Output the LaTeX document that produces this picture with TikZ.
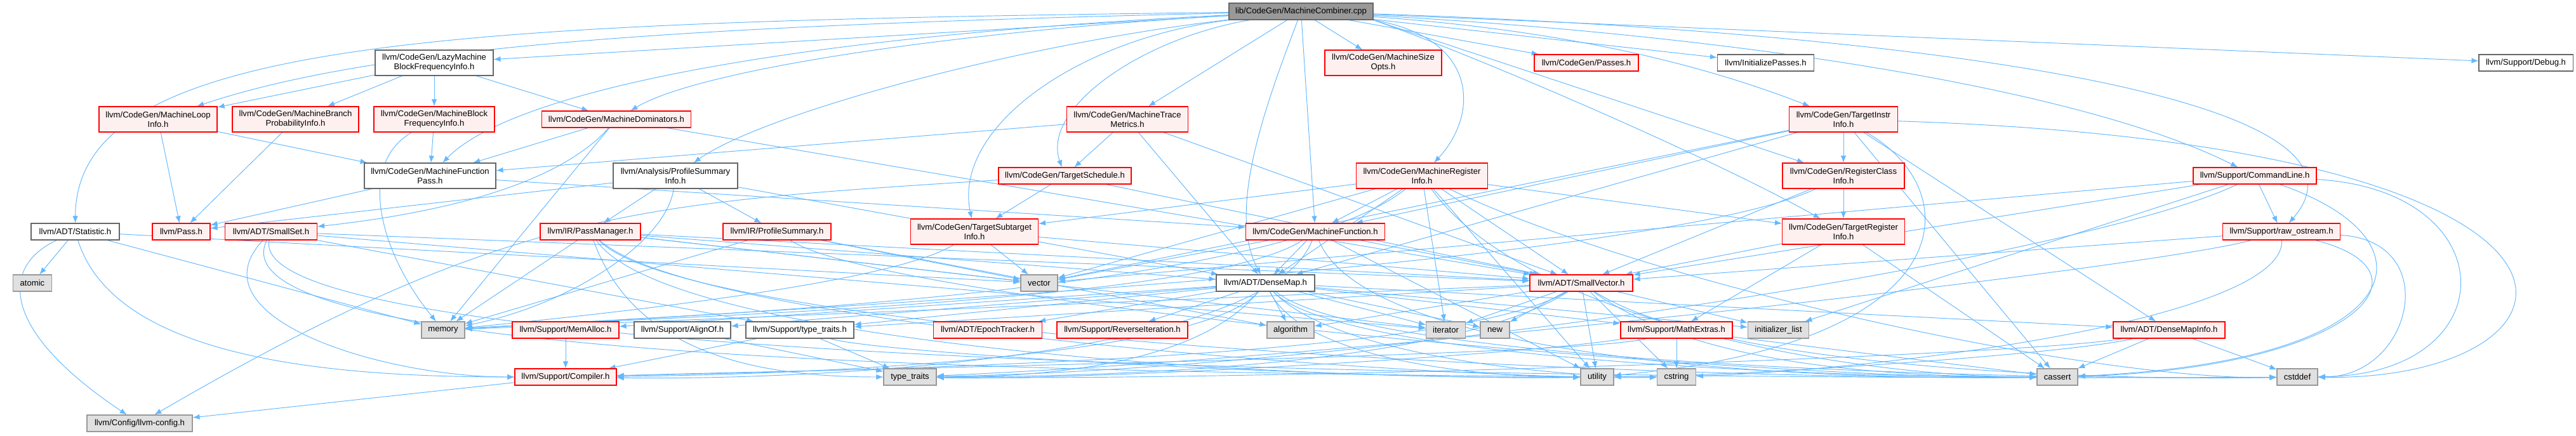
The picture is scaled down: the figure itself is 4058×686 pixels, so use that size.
\documentclass[tikz,border=0pt]{standalone}
\usepackage{fontspec}
\setmainfont{Liberation Sans}
\usetikzlibrary{arrows.meta}
\definecolor{edgec}{HTML}{63B8FF}
\definecolor{redfill}{HTML}{FFF0F0}
\definecolor{redline}{HTML}{FF0000}
\definecolor{grayfill}{HTML}{E0E0E0}
\definecolor{grayline}{HTML}{999999}
\definecolor{wline}{HTML}{666666}
\definecolor{mainfill}{HTML}{999999}
\pgfdeclarelayer{edges}
\pgfsetlayers{edges,main}
\newcommand{\Nd}[7]{\node[#6, minimum width=#4pt, minimum height=#5pt] (#1) at (#2,#3) {#7};}
\begin{document}
\begin{tikzpicture}[x=1pt,y=-1pt,
  base/.style={draw, inner sep=0pt, align=center, font=\fontsize{13.1}{15}\selectfont, line width=1.1pt},
  wn/.style={base, fill=white, draw=wline},
  rn/.style={base, fill=redfill, draw=redline},
  gn/.style={base, fill=grayfill, draw=grayline},
  mn/.style={base, fill=mainfill, draw=wline},
  e/.style={draw=edgec, line width=0.95pt, -{Latex[length=11pt,width=8.5pt]}},
]
\useasboundingbox (0,0) rectangle (4058,686);
% row 1
\Nd{main}{2049.5}{18}{227}{26}{mn}{lib/CodeGen/MachineCombiner.cpp}
% row 2
\Nd{lazy}{684}{99}{186}{40}{wn}{llvm/CodeGen/LazyMachine\\BlockFrequencyInfo.h}
\Nd{mso}{2179}{99}{184}{40}{rn}{llvm/CodeGen/MachineSize\\Opts.h}
\Nd{passes}{2499}{99}{164}{26}{rn}{llvm/CodeGen/Passes.h}
\Nd{initp}{2781.5}{99}{152}{26}{wn}{llvm/InitializePasses.h}
\Nd{debug}{3979}{99}{148}{26}{wn}{llvm/Support/Debug.h}
% row 3
\Nd{mli}{249}{188}{186}{40}{rn}{llvm/CodeGen/MachineLoop\\Info.h}
\Nd{mbpi}{465.5}{188}{199}{40}{rn}{llvm/CodeGen/MachineBranch\\ProbabilityInfo.h}
\Nd{mbfi}{684}{188}{190}{40}{rn}{llvm/CodeGen/MachineBlock\\FrequencyInfo.h}
\Nd{mdom}{971}{188}{235}{26}{rn}{llvm/CodeGen/MachineDominators.h}
\Nd{mtm}{1776}{188}{191}{40}{rn}{llvm/CodeGen/MachineTrace\\Metrics.h}
\Nd{tii}{2904}{188}{171}{40}{rn}{llvm/CodeGen/TargetInstr\\Info.h}
% row 4
\Nd{mfp}{677.5}{277}{207}{40}{wn}{llvm/CodeGen/MachineFunction\\Pass.h}
\Nd{psi}{1064}{277}{196}{40}{wn}{llvm/Analysis/ProfileSummary\\Info.h}
\Nd{tsched}{1677.5}{277}{209}{26}{rn}{llvm/CodeGen/TargetSchedule.h}
\Nd{mri}{2240}{277}{207}{40}{rn}{llvm/CodeGen/MachineRegister\\Info.h}
\Nd{rci}{2904}{277}{192}{40}{rn}{llvm/CodeGen/RegisterClass\\Info.h}
\Nd{cmdl}{3552}{277}{194}{26}{rn}{llvm/Support/CommandLine.h}
% row 5
\Nd{stat}{118.5}{365}{139}{26}{wn}{llvm/ADT/Statistic.h}
\Nd{pass}{285.5}{365}{91}{26}{rn}{llvm/Pass.h}
\Nd{sset}{427}{365}{145}{26}{rn}{llvm/ADT/SmallSet.h}
\Nd{pm}{930}{365}{158}{26}{rn}{llvm/IR/PassManager.h}
\Nd{ps}{1224}{365}{170}{26}{rn}{llvm/IR/ProfileSummary.h}
\Nd{tsi}{1535}{365}{201}{40}{rn}{llvm/CodeGen/TargetSubtarget\\Info.h}
\Nd{mf}{2072}{365}{219}{26}{rn}{llvm/CodeGen/MachineFunction.h}
\Nd{tri}{2904}{365}{193}{40}{rn}{llvm/CodeGen/TargetRegister\\Info.h}
\Nd{rawos}{3594}{365}{185}{26}{rn}{llvm/Support/raw\_ostream.h}
% row 6
\Nd{atomic}{51}{446}{61}{26}{gn}{atomic}
\Nd{vector}{1637}{446}{58}{26}{gn}{vector}
\Nd{dmap}{1993.5}{446}{155}{26}{wn}{llvm/ADT/DenseMap.h}
\Nd{svec}{2491}{446}{162}{26}{rn}{llvm/ADT/SmallVector.h}
% row 7
\Nd{memory}{698}{520}{68}{26}{gn}{memory}
\Nd{memalloc}{891}{520}{168}{26}{rn}{llvm/Support/MemAlloc.h}
\Nd{alignof}{1075}{520}{152}{26}{wn}{llvm/Support/AlignOf.h}
\Nd{stt}{1260}{520}{170}{26}{wn}{llvm/Support/type\_traits.h}
\Nd{epoch}{1556}{520}{171}{26}{rn}{llvm/ADT/EpochTracker.h}
\Nd{reviter}{1768}{520}{206}{26}{rn}{llvm/Support/ReverseIteration.h}
\Nd{algo}{2033}{520}{74}{26}{gn}{algorithm}
\Nd{iter}{2277.5}{520}{62}{26}{gn}{iterator}
\Nd{new}{2355}{520}{46}{26}{gn}{new}
\Nd{mathx}{2641}{520}{176}{26}{rn}{llvm/Support/MathExtras.h}
\Nd{ilist}{2801.5}{520}{96}{26}{gn}{initializer\_list}
\Nd{dmi}{3417}{520}{176}{26}{rn}{llvm/ADT/DenseMapInfo.h}
% row 8
\Nd{compiler}{891}{594}{160}{26}{rn}{llvm/Support/Compiler.h}
\Nd{tt}{1433.5}{594}{83}{26}{gn}{type\_traits}
\Nd{utility}{2516}{594}{52}{26}{gn}{utility}
\Nd{cstring}{2641}{594}{61}{26}{gn}{cstring}
\Nd{cassert}{3241}{594}{64}{26}{gn}{cassert}
\Nd{cstddef}{3619}{594}{64}{26}{gn}{cstddef}
% row 9
\Nd{config}{220}{667}{166}{26}{gn}{llvm/Config/llvm-config.h}

\begin{pgfonlayer}{edges}
\fill[white] (0,0) rectangle (4058,686);
\foreach \src/\tgt in {main/lazy, main/mtm, main/mf, main/mso, main/passes, main/initp, main/debug,
  lazy/mli, lazy/mbpi, lazy/mbfi, lazy/mdom,
  mli/pass, mli/mfp, mbpi/pass, mbfi/mfp,
  mdom/mfp, mdom/memory, mdom/svec,
  mfp/pass, mfp/mf,
  psi/pass, psi/pm, psi/ps, psi/dmap,
  mtm/mfp, mtm/tsched, mtm/dmap, mtm/svec,
  tsched/tsi, tsched/svec,
  tii/dmap, tii/mf, tii/rci, tii/vector, tii/cassert, tii/dmi,
  rci/tri, rci/svec,
  mri/mf, mri/tri, mri/tsi, mri/svec, mri/dmap, mri/iter, mri/vector, mri/utility,
  tri/svec, tri/mathx, tri/cassert,
  cmdl/rawos, cmdl/svec, cmdl/ilist, cmdl/vector,
  rawos/svec,
  tsi/svec, tsi/vector,
  mf/dmap, mf/svec, mf/vector, mf/utility,
  pm/dmap, pm/svec, pm/iter, pm/vector, pm/memory,
  ps/algo, ps/vector, ps/memory,
  stat/atomic, stat/memory, stat/vector,
  sset/svec, sset/stt, sset/iter,
  dmap/dmi, dmap/epoch, dmap/alignof, dmap/mathx, dmap/memalloc, dmap/reviter, dmap/stt, dmap/algo, dmap/ilist, dmap/iter, dmap/new,
  svec/stt, svec/algo, svec/ilist, svec/iter, svec/new, svec/utility, svec/memory, svec/cstring,
  memalloc/compiler, alignof/tt, stt/compiler, stt/tt, mathx/cstring, mathx/cassert,
  dmi/cassert, dmi/cstddef, compiler/config}
  \draw[e] (\src) -- (\tgt);
% connectors from the main file that leave from its lower right corner
\draw[e] (main.south east) .. controls (2330,90) and (2700,250) .. (tri);
\draw[e] (main.south east) -- (rci);
\draw[e] (main.south east) .. controls (2330,60) and (2330,180) .. (mri);
% curved connectors
\draw[e] (main) .. controls (2350,40) and (2600,70) .. (tii);
\draw[e] (main) .. controls (2800,60) and (3300,150) .. (cmdl);
\draw[e] (main) .. controls (1100,40) and (600,70) .. (mli);
\draw[e] (main) .. controls (700,35) and (120,60) .. (stat);
\draw[e] (main) .. controls (1200,60) and (800,150) .. (mfp);
\draw[e] (main) .. controls (1500,50) and (1100,110) .. (mdom);
\draw[e] (main) .. controls (1600,70) and (1200,180) .. (psi);
\draw[e] (main) .. controls (1700,60) and (1500,200) .. (tsi);
\draw[e] (main) .. controls (1800,60) and (1640,170) .. (tsched);
\draw[e] (main) .. controls (2000,150) and (1930,330) .. (dmap);
\draw[e] (main) .. controls (3000,50) and (3780,150) .. (rawos);
\draw[e] (stat) .. controls (0,420) and (0,520) .. (config);
\draw[e] (stat) .. controls (180,560) and (500,594) .. (compiler);
\draw[e] (sset) .. controls (300,500) and (600,594) .. (compiler);
\draw[e] (sset) .. controls (330,560) and (1500,585) .. (utility);
\draw[e] (sset) .. controls (380,580) and (2500,600) .. (cstddef);
\draw[e] (mbfi) .. controls (560,260) and (600,400) .. (memory);
\draw[e] (mdom) .. controls (880,290) and (700,335) .. (sset);
\draw[e] (psi) .. controls (1050,380) and (900,480) .. (memory);
\draw[e] (tsched) .. controls (1000,320) and (800,330) .. (config);
\draw[e] (mf) .. controls (2000,560) and (1300,600) .. (compiler);
\draw[e] (mf) .. controls (2150,560) and (2800,600) .. (cassert);
\draw[e] (mf) .. controls (1900,480) and (1000,500) .. (memory);
\draw[e] (mri) .. controls (2400,500) and (2900,594) .. (cassert);
\draw[e] (mri) .. controls (2600,450) and (3300,600) .. (cstddef);
\draw[e] (mri) .. controls (2000,470) and (1000,500) .. (memory);
\draw[e] (rci) .. controls (2600,420) and (1200,490) .. (memory);
\draw[e] (tsi) .. controls (1400,450) and (900,500) .. (memory);
\draw[e] (pm) .. controls (1100,540) and (2700,600) .. (cassert);
\draw[e] (pm) .. controls (1100,520) and (2300,600) .. (cstring);
\draw[e] (pm) .. controls (1000,560) and (1200,594) .. (tt);
\draw[e] (pm) .. controls (1050,540) and (2000,600) .. (utility);
\draw[e] (ps) .. controls (1400,480) and (2800,600) .. (cassert);
\draw[e] (dmap) .. controls (1900,560) and (1300,590) .. (compiler);
\draw[e] (dmap) .. controls (2100,560) and (2800,594) .. (cassert);
\draw[e] (dmap) .. controls (2150,575) and (3200,600) .. (cstddef);
\draw[e] (dmap) .. controls (2100,560) and (2450,594) .. (cstring);
\draw[e] (dmap) .. controls (1900,560) and (1700,594) .. (tt);
\draw[e] (dmap) .. controls (2050,560) and (2300,594) .. (utility);
\draw[e] (svec) .. controls (2300,560) and (1500,580) .. (compiler);
\draw[e] (svec) .. controls (2650,560) and (2900,594) .. (cassert);
\draw[e] (svec) .. controls (2700,580) and (3300,600) .. (cstddef);
\draw[e] (svec) .. controls (2300,570) and (1800,594) .. (tt);
\draw[e] (cmdl) .. controls (3850,380) and (3800,570) .. (cassert);
\draw[e] (cmdl) .. controls (3950,300) and (3950,590) .. (cstddef);
\draw[e] (cmdl) .. controls (3300,400) and (2200,580) .. (tt);
\draw[e] (rawos) .. controls (3850,430) and (3700,580) .. (cassert);
\draw[e] (rawos) .. controls (3850,380) and (3800,594) .. (cstddef);
\draw[e] (rawos) .. controls (3600,500) and (3000,580) .. (cstring);
\draw[e] (rawos) .. controls (3400,420) and (2200,560) .. (tt);
\draw[e] (mathx) .. controls (2500,560) and (1400,580) .. (compiler);
\draw[e] (mathx) .. controls (2400,560) and (1700,600) .. (tt);
\draw[e] (dmi) .. controls (3200,560) and (2000,600) .. (tt);
\draw[e] (dmi) .. controls (3250,560) and (2700,594) .. (utility);
\draw[e] (stt) .. controls (1400,560) and (2200,600) .. (utility);
\draw[e] (tii) .. controls (3100,300) and (3100,540) .. (utility);
\draw[e] (tii) .. controls (4200,230) and (4100,600) .. (cstddef);
\end{pgfonlayer}
\end{tikzpicture}
\end{document}
